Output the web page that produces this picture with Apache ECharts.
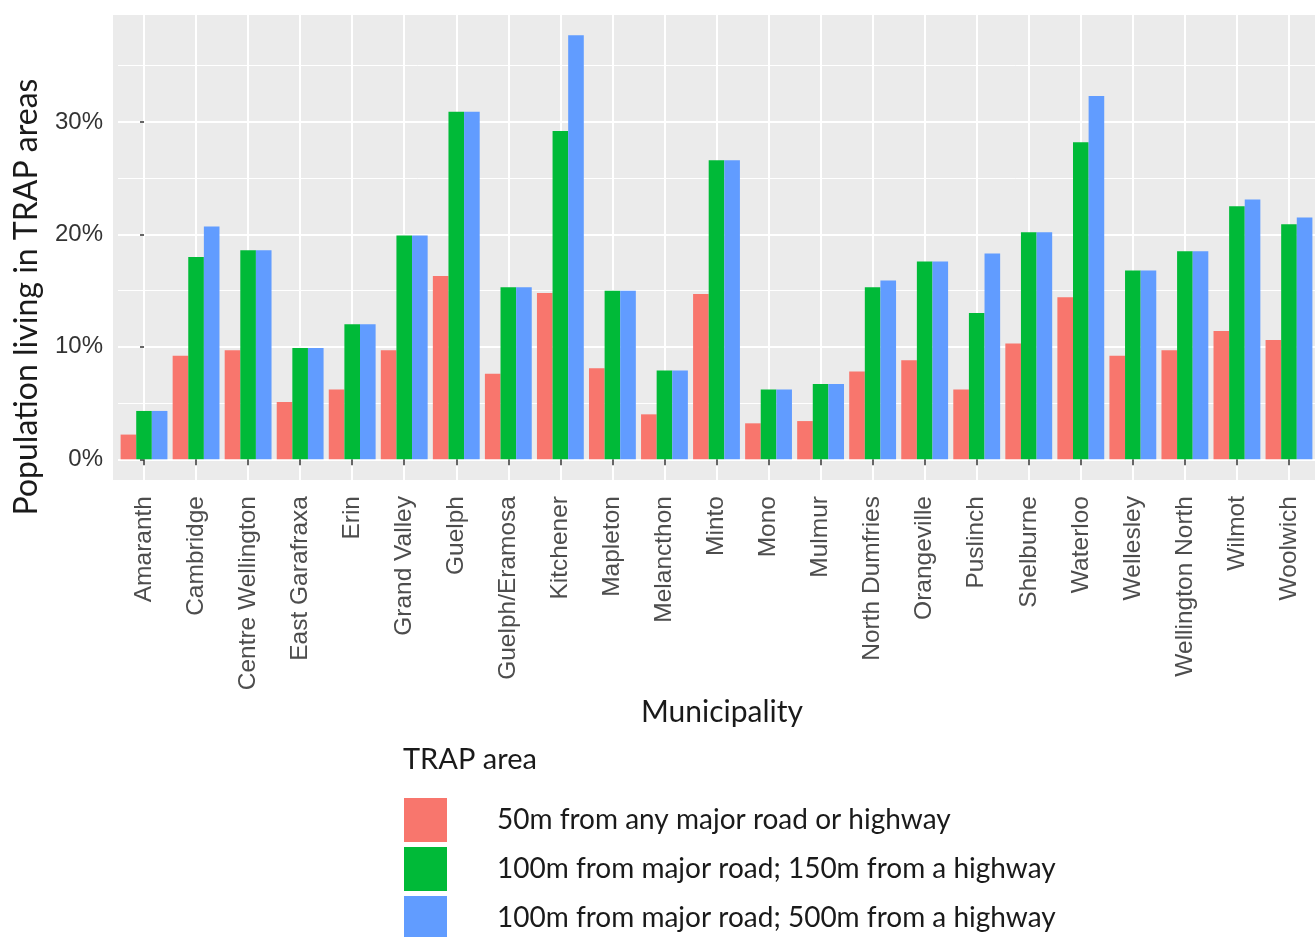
<!DOCTYPE html>
<html><head><meta charset="utf-8">
<script src="https://cdn.jsdelivr.net/npm/echarts@6/dist/echarts.min.js"></script>
<style>html,body{margin:0;padding:0;background:#fff}#chart{width:1315px;height:937px}</style>
</head><body><div id="chart"></div>
<script>
const categories = ['Amaranth','Cambridge','Centre Wellington','East Garafraxa','Erin','Grand Valley','Guelph','Guelph/Eramosa','Kitchener','Mapleton','Melancthon','Minto','Mono','Mulmur','North Dumfries','Orangeville','Puslinch','Shelburne','Waterloo','Wellesley','Wellington North','Wilmot','Woolwich'];
const seriesNames = ['50m from any major road or highway','100m from major road; 150m from a highway','100m from major road; 500m from a highway'];
const within50m = [2.2, 9.2, 9.7, 5.1, 6.2, 9.7, 16.3, 7.6, 14.8, 8.1, 4.0, 14.7, 3.2, 3.4, 7.8, 8.8, 6.2, 10.3, 14.4, 9.2, 9.7, 11.4, 10.6];
const within100m150m = [4.3, 18.0, 18.6, 9.9, 12.0, 19.9, 30.9, 15.3, 29.2, 15.0, 7.9, 26.6, 6.2, 6.7, 15.3, 17.6, 13.0, 20.2, 28.2, 16.8, 18.5, 22.5, 20.9];
const within100m500m = [4.3, 20.7, 18.6, 9.9, 12.0, 19.9, 30.9, 15.3, 37.7, 15.0, 7.9, 26.6, 6.2, 6.7, 15.9, 17.6, 18.3, 20.2, 32.3, 16.8, 18.5, 23.1, 21.5];
const yTicks = [0, 10, 20, 30];
const yMinorTicks = [5, 15, 25, 35];
const colors = ['#F8766D', '#00BA38', '#619CFF'];

const chart = echarts.init(document.getElementById('chart'), null, {renderer: 'canvas'});
const catIndex = categories.map((c, i) => i);
const seriesData = [within50m, within100m150m, within100m500m];
const txt = '#1a1a1a';
const option = {
  animation: false,
  backgroundColor: '#ffffff',
  color: colors,
  grid: {left: 118, top: 15, width: 1205, height: 465, show: true, backgroundColor: '#EBEBEB', borderWidth: 0},
  xAxis: [
    {type: 'category', data: categories, axisLine: {show: false},
     axisTick: {show: true, alignWithLabel: true, length: 6, lineStyle: {color: '#333', width: 1.5}},
     axisLabel: {rotate: 90, margin: 16, fontSize: 24.5, fontFamily: 'Liberation Sans, Arial, sans-serif', color: '#4d4d4d', interval: 0},
     splitLine: {show: false}},
    {type: 'value', min: -0.5, max: 22.5, position: 'top', axisLine: {show: false}, axisLabel: {show: false},
     axisTick: {show: false, customValues: catIndex},
     splitLine: {show: true, lineStyle: {color: '#ffffff', width: 2}}}
  ],
  yAxis: [
    {type: 'value', min: -1.84, max: 39.51, offset: 5, axisLine: {show: false},
     axisTick: {show: true, length: 4, customValues: yTicks, lineStyle: {color: '#333', width: 1.5}},
     axisLabel: {customValues: yTicks, formatter: v => v + '%', margin: 10, fontSize: 24, color: '#333', fontFamily: 'Liberation Sans, Arial, sans-serif'},
     splitLine: {show: true, lineStyle: {color: '#ffffff', width: 2}}},
    {type: 'value', min: -1.84, max: 39.51, position: 'left', axisLine: {show: false}, axisLabel: {show: false},
     axisTick: {show: false, customValues: yMinorTicks},
     splitLine: {show: true, lineStyle: {color: '#ffffff', width: 1}}}
  ],
  legend: {
    orient: 'vertical', left: 404, top: 798, height: 170, padding: 0, itemWidth: 43, itemHeight: 44, itemGap: 5, icon: 'rect',
    data: seriesNames,
    textStyle: {fontFamily: 'Lato', fontSize: 28, color: txt, padding: [0, 0, 0, 45]}
  },
  graphic: [
    {type: 'rect', shape: {x: 113, y: 15, width: 6, height: 465}, style: {fill: '#EBEBEB'}, z: -1, silent: true},
    {type: 'text', x: 27, y: 297, rotation: Math.PI / 2, style: {text: 'Population living in TRAP areas', font: '32px Lato', fill: txt, textAlign: 'center', textVerticalAlign: 'middle'}},
    {type: 'text', x: 722, y: 712, style: {text: 'Municipality', font: '30px Lato', fill: txt, textAlign: 'center', textVerticalAlign: 'middle'}},
    {type: 'text', x: 403, y: 760, style: {text: 'TRAP area', font: '29px Lato', fill: txt, textAlign: 'left', textVerticalAlign: 'middle'}}
  ],
  series: seriesNames.map((name, k) => ({
    type: 'bar', name: name, data: seriesData[k], xAxisIndex: 0, yAxisIndex: 0,
    barGap: '0%', barCategoryGap: '10%', itemStyle: {color: colors[k]}
  }))
};
chart.setOption(option);
</script></body></html>
